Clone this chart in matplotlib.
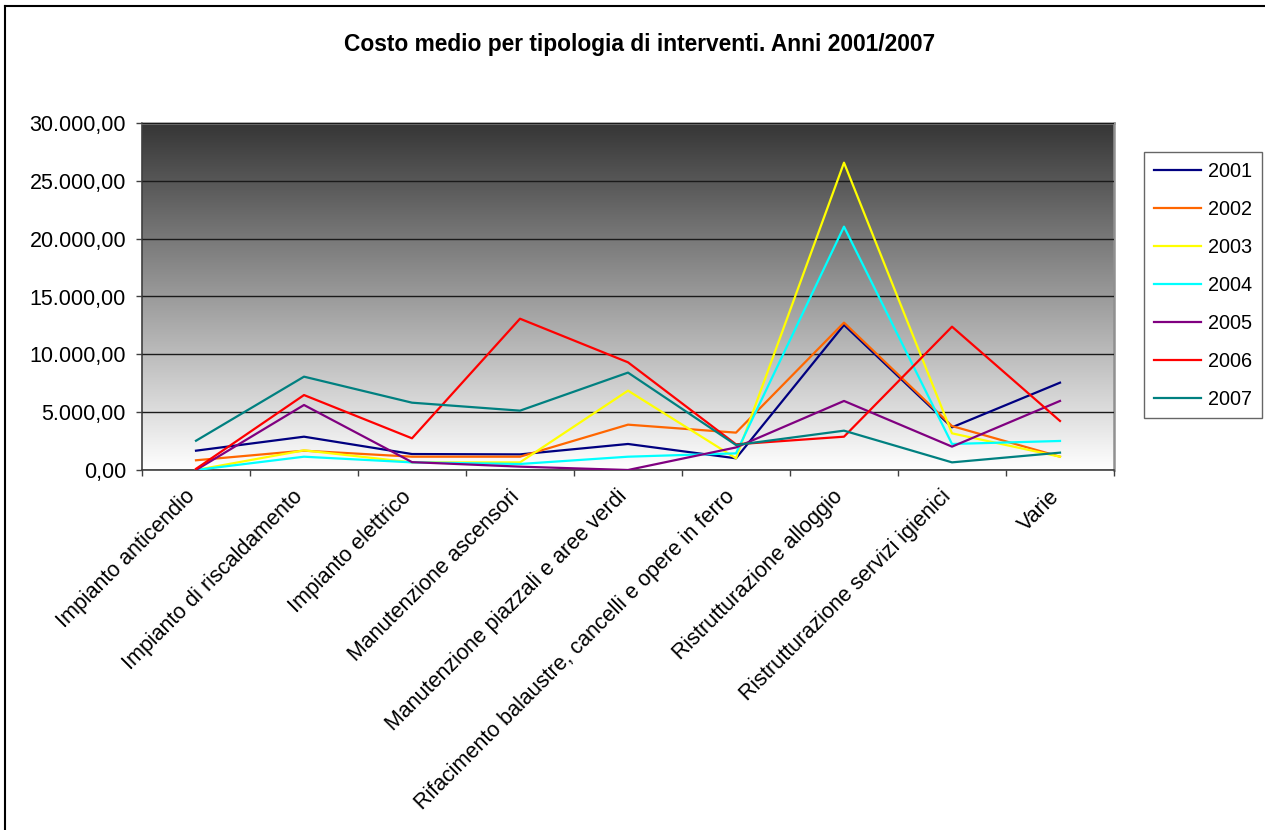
import matplotlib
matplotlib.use('Agg')
import matplotlib.pyplot as plt
import numpy as np
from matplotlib.ticker import FuncFormatter, FixedLocator
from matplotlib.lines import Line2D
from matplotlib.colors import LinearSegmentedColormap
import matplotlib.transforms as mtransforms

plt.rcParams['font.family'] = ['Liberation Sans', 'DejaVu Sans']

categories = [
    "Impianto anticendio",
    "Impianto di riscaldamento",
    "Impianto elettrico",
    "Manutenzione ascensori",
    "Manutenzione piazzali e aree verdi",
    "Rifacimento balaustre, cancelli e opere in ferro",
    "Ristrutturazione alloggio",
    "Ristrutturazione servizi igienici",
    "Varie",
]
years = ["2001", "2002", "2003", "2004", "2005", "2006", "2007"]

v2001 = [1670, 2880, 1380, 1350, 2250, 1010, 12540, 3690, 7550]
v2002 = [840, 1670, 1150, 1150, 3920, 3230, 12740, 3800, 1150]
v2003 = [0, 1700, 660, 660, 6860, 1010, 26570, 3170, 1150]
v2004 = [0, 1150, 660, 520, 1150, 1440, 21040, 2250, 2510]
v2005 = [0, 5620, 680, 290, 0, 1950, 5970, 2020, 5970]
v2006 = [100, 6480, 2740, 13080, 9310, 2220, 2880, 12390, 4240]
v2007 = [2530, 8070, 5820, 5130, 8420, 2160, 3400, 660, 1500]
series = [v2001, v2002, v2003, v2004, v2005, v2006, v2007]

colors = ["#000080", "#FF6600", "#FFFF00", "#00FFFF", "#800080", "#FF0000", "#008080"]

W, H = 1265, 830
fig = plt.figure(figsize=(W / 100, H / 100), dpi=100)

ax = fig.add_axes([142 / W, 1 - 470 / H, (1114 - 142) / W, (470 - 123) / H])

# gradient background
cmap = LinearSegmentedColormap.from_list('g', ['#ffffff', '#353535'])
ax.imshow(np.linspace(0, 1, 256).reshape(-1, 1), extent=[0, 1, 0, 1],
          transform=ax.transAxes, aspect='auto', origin='lower', cmap=cmap,
          zorder=0, interpolation='bilinear')

x = np.arange(len(categories))
for yr, vals, c in zip(years, series, colors):
    ax.plot(x, vals, color=c, lw=1.6, label=yr, zorder=3)

ax.set_xlim(-0.5, len(categories) - 0.5)
ax.set_ylim(0, 30000)
ax.set_yticks(np.arange(0, 30001, 5000))


def fmt(v, pos):
    s = f"{v:,.2f}"
    return s.replace(',', 'X').replace('.', ',').replace('X', '.')


ax.yaxis.set_major_formatter(FuncFormatter(fmt))
ax.grid(axis='y', color='#1a1a1a', lw=1.0, zorder=1)
ax.set_axisbelow(False)

ax.xaxis.set_major_locator(FixedLocator(np.arange(-0.5, len(categories), 1.0)))
ax.xaxis.set_major_formatter(FuncFormatter(lambda v, p: ''))
ax.set_xticks(x, minor=True)
ax.set_xticklabels(categories, minor=True, rotation=45, ha='right', va='center',
                   rotation_mode='anchor', fontsize=15.5)
ax.tick_params(axis='x', which='minor', length=0, pad=17)
ax.tick_params(axis='x', which='major', length=4.5, width=1, color='#404040', direction='out')
ax.tick_params(axis='y', length=4.5, width=1, color='#404040', direction='out', pad=7, labelsize=15.5)

offset = mtransforms.ScaledTranslation(-4 / 100, 0, fig.dpi_scale_trans)
for lab in ax.get_xticklabels(minor=True):
    lab.set_transform(lab.get_transform() + offset)

for s in ['left', 'bottom']:
    ax.spines[s].set_color('#404040')
    ax.spines[s].set_linewidth(1.2)
for s in ['top', 'right']:
    ax.spines[s].set_color('#909090')
    ax.spines[s].set_linewidth(1.8)

leg = ax.legend(loc='upper left', bbox_to_anchor=(1144 / W, 1 - 152 / H),
                bbox_transform=fig.transFigure, borderaxespad=0, fontsize=14.3,
                frameon=True, fancybox=False, edgecolor='#404040',
                handlelength=2.4, handletextpad=0.35, labelspacing=0.96,
                borderpad=0.48)
leg.get_frame().set_linewidth(1.0)

fig.text(640 / W, 1 - 51 / H, "Costo medio per tipologia di interventi. Anni 2001/2007",
         ha='center', va='baseline', fontsize=16.4, fontweight='bold')

# outer chart border (left and top)
fig.add_artist(Line2D([5 / W, 5 / W], [0, 1 - 6 / H], transform=fig.transFigure,
                      color='black', lw=1.5))
fig.add_artist(Line2D([5 / W, 1], [1 - 6 / H, 1 - 6 / H], transform=fig.transFigure,
                      color='black', lw=1.5))

fig.savefig('out.png', dpi=100)
